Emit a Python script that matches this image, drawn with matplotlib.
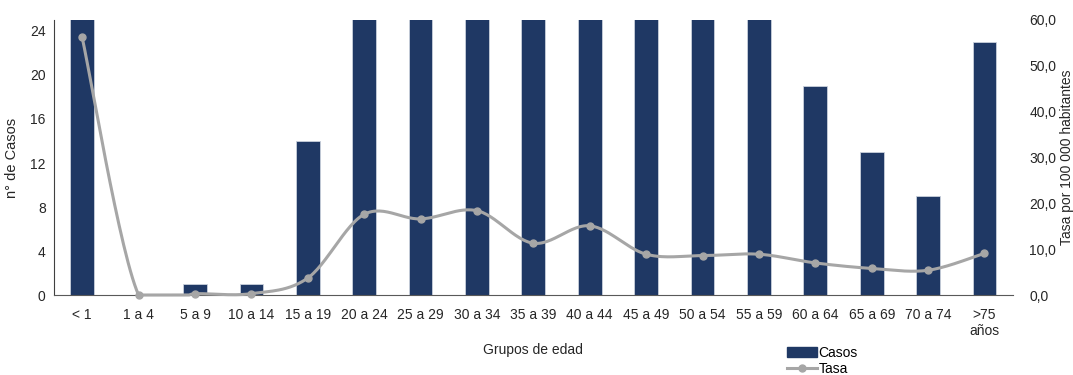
import numpy as np
import matplotlib
matplotlib.use("Agg")
import matplotlib.pyplot as plt
from matplotlib.patches import Patch
from matplotlib.lines import Line2D

plt.rcParams['font.family'] = ['Liberation Sans', 'DejaVu Sans']

categories = ["< 1", "1 a 4", "5 a 9", "10 a 14", "15 a 19", "20 a 24", "25 a 29",
              "30 a 34", "35 a 39", "40 a 44", "45 a 49", "50 a 54", "55 a 59",
              "60 a 64", "65 a 69", "70 a 74", ">75\naños"]
casos = [26, 0, 1, 1, 14, 30, 30, 30, 30, 30, 30, 30, 30, 19, 13, 9, 23]
tasa = [56.2, 0.0, 0.3, 0.3, 3.7, 17.6, 16.6, 18.4, 11.3, 15.1, 8.9, 8.6, 8.9,
        7.0, 5.8, 5.4, 9.1]
left_ticks = [0, 4, 8, 12, 16, 20, 24]
right_ticks = [0, 10, 20, 30, 40, 50, 60]

bar_color = "#1F3864"
line_color = "#A6A6A6"
text_color = "#262626"

fig = plt.figure(figsize=(10.73, 3.75), dpi=100)
ax = fig.add_axes([0.0503, 0.2133, 0.8935, 0.7334])
x = np.arange(len(categories))
ax.bar(x, casos, width=0.42, color=bar_color, edgecolor="#C9D0DC", linewidth=0.6, zorder=2)
ax.set_ylim(0, 25)
ax.set_xlim(-0.5, len(categories) - 0.5)
ax.set_yticks(left_ticks)
ax.set_xticks(x)
ax.set_xticklabels(categories, fontsize=10, color=text_color)
ax.tick_params(axis='y', length=0, labelsize=10, colors=text_color, pad=6)
ax.tick_params(axis='x', length=0, labelsize=10, colors=text_color, pad=9)
for s in ['top', 'right']:
    ax.spines[s].set_visible(False)
ax.spines['left'].set_color("#404040")
ax.spines['bottom'].set_color("#595959")
ax.set_ylabel("n° de Casos", fontsize=10.5, color=text_color, labelpad=8)
ax.set_xlabel("Grupos de edad", fontsize=10, color=text_color, labelpad=4)

ax2 = ax.twinx()
ax2.set_ylim(0, 60)
ax2.set_yticks(right_ticks)
ax2.set_yticklabels([f"{v:.1f}".replace('.', ',') for v in right_ticks])
ax2.tick_params(axis='y', length=0, labelsize=10, colors=text_color, pad=12)
for s in ['top', 'right', 'left', 'bottom']:
    ax2.spines[s].set_visible(False)
fig.text(0.9945, 0.58, "Tasa por 100 000 habitantes", rotation=90, fontsize=10,
         color=text_color, ha='center', va='center')

# Catmull-Rom smoothing (Excel-style smoothed line)
def smooth(xs, ys, n=30):
    xs = np.asarray(xs, float); ys = np.asarray(ys, float)
    px = np.concatenate([[xs[0]], xs, [xs[-1]]])
    py = np.concatenate([[ys[0]], ys, [ys[-1]]])
    outx, outy = [], []
    for i in range(1, len(px) - 2):
        p0, p1, p2, p3 = (np.array([px[j], py[j]]) for j in (i - 1, i, i + 1, i + 2))
        b1 = p1 + (p2 - p0) / 6.0
        b2 = p2 - (p3 - p1) / 6.0
        t = np.linspace(0, 1, n)[:, None]
        pts = ((1 - t) ** 3) * p1 + 3 * ((1 - t) ** 2) * t * b1 + 3 * (1 - t) * t ** 2 * b2 + t ** 3 * p2
        outx.extend(pts[:, 0]); outy.extend(pts[:, 1])
    return np.array(outx), np.array(outy)

sx, sy = smooth(x, tasa)
ax2.plot(sx, np.clip(sy, 0, None), color=line_color, lw=2.2, zorder=3, clip_on=False)
ax2.plot(x, tasa, 'o', color=line_color, ms=5, zorder=4, clip_on=False)

handles = [Patch(facecolor=bar_color, edgecolor=bar_color),
           Line2D([0], [0], color=line_color, lw=2.2, marker='o', ms=5)]
fig.legend(handles, ["Casos", "Tasa"], loc='center left', bbox_to_anchor=(0.728, 0.037),
           frameon=False, fontsize=10, handlelength=2.2, handletextpad=0.1,
           labelspacing=0.15, borderaxespad=0)

fig.savefig("out.png", dpi=100)
